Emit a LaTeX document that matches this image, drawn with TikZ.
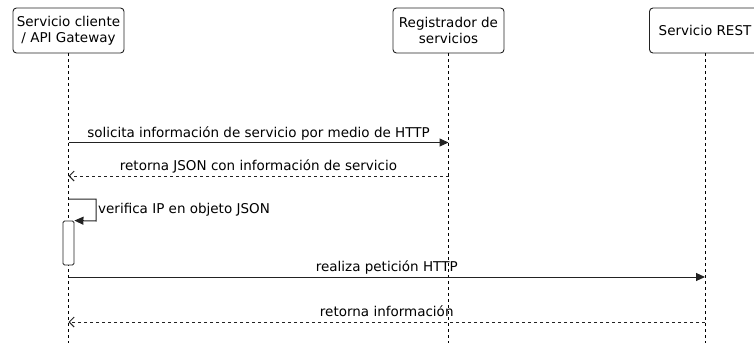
\documentclass[tikz,border=0pt]{standalone}
\usepackage{fontspec}
\setmainfont{DejaVu Sans}
\usetikzlibrary{arrows.meta}
\definecolor{ln}{HTML}{222222}
\begin{document}
\begin{tikzpicture}[x=1pt,y=-1pt,
  font=\fontsize{13.5}{16}\selectfont,
  actor/.style={draw=ln, line width=0.9pt, rounded corners=3.5pt, fill=white,
    minimum width=111pt, minimum height=45pt, align=center, inner sep=0pt},
  life/.style={draw=black, line width=0.9pt, dash pattern=on 3pt off 3pt},
  msg/.style={draw=ln, line width=1pt, -{Triangle[length=9pt,width=8pt]}},
  ret/.style={draw=ln, line width=1pt, dash pattern=on 3pt off 3pt, -{Straight Barb[length=5pt,width=10pt]}},
  lbl/.style={anchor=base, inner sep=0pt, text=black},
  act/.style={draw=ln, line width=0.9pt, fill=white, rounded corners=1.5pt, minimum width=11pt, minimum height=44pt, inner sep=0pt}
]
\useasboundingbox (0,0) rectangle (754,343);
% actors
\node[actor] (a1) at (68.5,30.5) {Servicio cliente\\/ API Gateway};
\node[actor] (a2) at (448.5,30.5) {Registrador de\\servicios};
\node[actor] (a3) at (705,30.5) {Servicio REST};
% lifelines
\coordinate (e1) at (68.5,343);
\coordinate (e2) at (448.5,343);
\coordinate (e3) at (705,343);
\draw[life] (a1.south) -- (e1);
\draw[life] (a2.south) -- (e2);
\draw[life] (a3.south) -- (e3);
% message 1
\coordinate (m1s) at (68.5,142.5);
\coordinate (m1e) at (448.5,142.5);
\draw[msg] (m1s) -- (m1e);
\node[lbl] (l1) at (258.5,137) {solicita información de servicio por medio de HTTP};
% message 2
\coordinate (m2s) at (448.5,176);
\coordinate (m2e) at (68.5,176);
\draw[ret] (m2s) -- (m2e);
\node[lbl] (l2) at (258.5,170.5) {retorna JSON con información de servicio};
% activation
\node[act] (ac) at (68.5,243) {};
% self message
\coordinate (s1) at (68.5,199);
\coordinate (s2) at (96,199);
\coordinate (s3) at (96,221);
\draw[msg] (s1) -- (s2) -- (s3) -- (ac.north east);
\node[anchor=base west, inner sep=0pt] (l3) at (98,213) {verifica IP en objeto JSON};
% message 3
\coordinate (m3s) at (68.5,277);
\coordinate (m3e) at (705,277);
\draw[msg] (m3s) -- (m3e);
\node[lbl] (l4) at (386.75,271.5) {realiza petición HTTP};
% message 4
\coordinate (m4s) at (705,322);
\coordinate (m4e) at (68.5,322);
\draw[ret] (m4s) -- (m4e);
\node[lbl] (l5) at (386.75,316.5) {retorna información};
\end{tikzpicture}
\end{document}
